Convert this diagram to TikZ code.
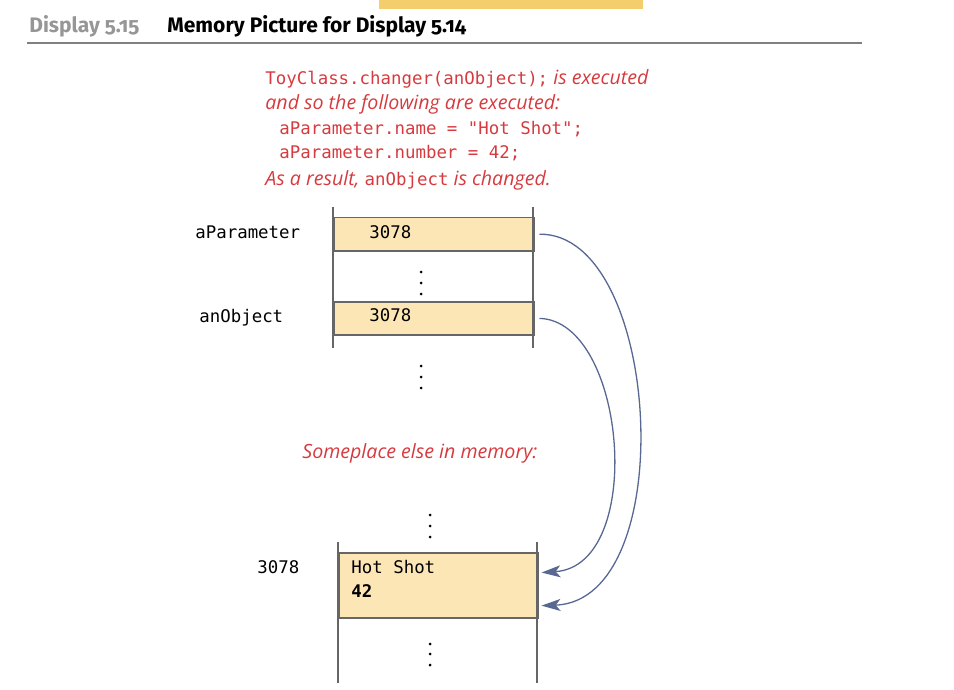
\documentclass[tikz,border=0pt]{standalone}
\usepackage{fontspec}
\setmainfont{Open Sans}
\setmonofont{DejaVu Sans Mono}
\newfontfamily\headfont{Fira Sans}[Numbers=OldStyle]
\usetikzlibrary{arrows.meta}
\definecolor{cellfill}{RGB}{253,230,182}
\definecolor{notered}{RGB}{214,58,62}
\definecolor{ptrblue}{RGB}{88,104,146}
\definecolor{bargold}{RGB}{244,206,108}
\definecolor{headgray}{RGB}{150,150,150}
\newcommand{\codetxt}[1]{{\ttfamily\upshape\fontsize{8.7}{12}\selectfont #1}}
\begin{document}
\begin{tikzpicture}[x=0.5pt, y=-0.5pt]
\tikzstyle{cell_style} = [rectangle, draw=black!60, line width=0.75pt, fill=cellfill, minimum width=100pt, minimum height=16.5pt, inner sep=0pt, anchor=north west]
\tikzstyle{code_style} = [font=\ttfamily\fontsize{8.7}{12}\selectfont, inner sep=0pt, anchor=base west]
\tikzstyle{note_style} = [font=\itshape\fontsize{9.8}{12}\selectfont, text=notered, inner sep=0pt, anchor=base west]
\tikzstyle{head_style} = [font=\headfont\bfseries\fontsize{10.5}{12}\selectfont, inner sep=0pt, anchor=base west]
\tikzstyle{wall_style} = [draw=black!60, line width=0.75pt]
\tikzstyle{ptr_style} = [draw=ptrblue, line width=0.65pt, -{Stealth[length=9.5pt, width=6pt, inset=2.4pt]}, shorten <=2.5pt, shorten >=1.5pt]

\useasboundingbox (0,0) rectangle (954,690);

\fill[bargold] (379,0) rectangle (643,9);
\node[head_style, text=headgray] (dispnum) at (29,33) {Display 5.15};
\node[head_style] (disptitle) at (167,33) {Memory Picture for Display 5.14};
\draw[draw=black!50, line width=1pt] (27,43.5) -- (862,43.5);

\node[note_style] (note1) at (265,85) {\codetxt{ToyClass.changer(anObject);} is executed};
\node[note_style] (note2) at (265,110) {and so the following are executed:};
\node[note_style] (note3) at (279,134) {\codetxt{aParameter.name = "Hot Shot";}};
\node[note_style] (note4) at (279,159) {\codetxt{aParameter.number = 42;}};
\node[note_style] (note5) at (265,185) {As a result, \codetxt{anObject} is changed.};

\node[cell_style] (parcell) at (333,217) {};
\node[cell_style] (objcell) at (333,301) {};
\draw[wall_style] (333,207) -- (333,348);
\draw[wall_style] (533,207) -- (533,348);
\node[code_style] (parval) at (369,238.5) {3078};
\node[code_style] (objval) at (369,321.5) {3078};
\node[code_style] (parname) at (195,238.5) {aParameter};
\node[code_style] (objname) at (199,322.5) {anObject};
\foreach \y in {272,283,294} \fill (421,\y) circle[radius=0.75pt];
\foreach \y in {366,377,388} \fill (421,\y) circle[radius=0.75pt];

\node[note_style] (elsewhere) at (302,458.5) {Someplace else in memory:};

\foreach \y in {515,526,537} \fill (430,\y) circle[radius=0.75pt];
\node[cell_style, minimum width=99.5pt, minimum height=32.5pt] (heapcell) at (338,552) {};
\draw[wall_style] (338,542) -- (338,683);
\draw[wall_style] (537,542) -- (537,683);
\node[code_style] (heapname) at (351,573.5) {Hot Shot};
\node[code_style, font=\ttfamily\bfseries\fontsize{8.7}{12}\selectfont] (heapnum) at (351,597.5) {42};
\node[code_style] (heapaddr) at (257,573.5) {3078};
\foreach \y in {644,654,665} \fill (430,\y) circle[radius=0.75pt];

\coordinate (namein) at ([yshift=6.25pt]heapcell.east);
\coordinate (numin) at ([yshift=-10.25pt]heapcell.east);
\draw[ptr_style] (parcell.east) .. controls +(127,-1.5) and +(143,-5) .. (numin);
\draw[ptr_style] (objcell.east) .. controls +(92,2.5) and +(108,-7) .. (namein);
\end{tikzpicture}
\end{document}
